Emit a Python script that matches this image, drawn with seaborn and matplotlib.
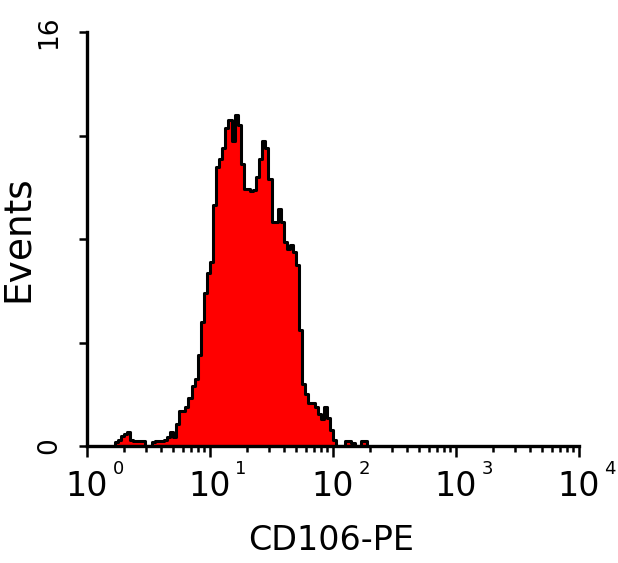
import numpy as np
import pandas as pd
import matplotlib
matplotlib.use("Agg")
import matplotlib.pyplot as plt
import matplotlib.transforms as mtransforms
from matplotlib.ticker import FixedLocator, NullFormatter, FixedFormatter
import seaborn as sns

# ---------------- data ----------------
# histogram bins in log10 units of CD106-PE fluorescence
bin_width_log = 0.025
first_bin_log = 0.225          # left edge (log10) of first listed bin
events = [
    0.15, 0.25, 0.39, 0.45, 0.54, 0.25, 0.2, 0.2, 0.2, 0.2,
    0.0, 0.0, 0.15, 0.2, 0.2, 0.2, 0.22, 0.35, 0.54, 0.35,
    0.86, 1.36, 1.36, 1.5, 1.86, 2.3, 2.6, 3.5, 4.8, 5.9,
    6.7, 7.1, 9.3, 10.8, 11.1, 11.5, 12.3, 12.6, 11.8, 12.8,
    12.4, 10.9, 9.95, 9.95, 9.85, 9.9, 10.4, 11.1, 11.8, 11.5,
    10.3, 8.65, 8.65, 9.15, 8.65, 7.9, 7.6, 7.75, 7.5, 7.0,
    4.5, 2.4, 2.0, 1.68, 1.68, 1.5, 1.24, 1.05, 1.5, 1.1,
    0.6, 0.25, 0.0, 0.0, 0.0, 0.2, 0.2, 0.1, 0.0, 0.0,
    0.2, 0.2,
]
x_decades = [0, 1, 2, 3, 4]
y_ticks = [0, 4, 8, 12, 16]
y_ticklabels = ["0", "", "", "", "16"]
x_label = "CD106-PE"
y_label = "Events"

# ---------------- build table ----------------
n = len(events)
edges_log = [first_bin_log + bin_width_log * i for i in range(n + 1)]
centers = [10 ** (e + bin_width_log / 2) for e in edges_log[:-1]]
df = pd.DataFrame({"fluorescence": centers, "events": events})

# ---------------- plot ----------------
sns.set_style("ticks")
plt.rcParams["font.family"] = ["DejaVu Sans"]
plt.rcParams["text.color"] = "black"
plt.rcParams["axes.labelcolor"] = "black"
plt.rcParams["xtick.color"] = "black"
plt.rcParams["ytick.color"] = "black"

fig = plt.figure(figsize=(6.18, 5.63), dpi=100)
ax = fig.add_axes([87 / 618, 117 / 563, 492 / 618, 414 / 563])

sns.histplot(data=df, x="fluorescence", weights="events", bins=edges_log,
             log_scale=True, element="step", fill=True,
             color="#ff0000", edgecolor="black", linewidth=2.2,
             alpha=1, ax=ax)

ax.set_xlim(10 ** x_decades[0], 10 ** x_decades[-1])
ax.set_ylim(y_ticks[0], y_ticks[-1])

for side in ["top", "right"]:
    ax.spines[side].set_visible(False)
for side in ["left", "bottom"]:
    ax.spines[side].set_linewidth(2.4)
    ax.spines[side].set_color("black")

# x ticks
major = [10.0 ** d for d in x_decades]
minor = [m * 10.0 ** d for d in x_decades[:-1] for m in range(2, 10)]
ax.xaxis.set_major_locator(FixedLocator(major))
ax.xaxis.set_minor_locator(FixedLocator(minor))
ax.xaxis.set_major_formatter(FixedFormatter(["10"] * len(major)))
ax.xaxis.set_minor_formatter(NullFormatter())
ax.tick_params(axis="x", which="major", length=8, width=1.8, pad=9,
               labelsize=24, color="black", labelcolor="black")
ax.tick_params(axis="x", which="minor", length=4, width=1.8, color="black")

# exponents
offset = mtransforms.offset_copy(
    mtransforms.blended_transform_factory(ax.transData, ax.transAxes),
    fig=fig, x=31, y=-23, units="dots")
for d in x_decades:
    ax.text(10.0 ** d, 0, str(d), transform=offset, fontsize=13,
            ha="center", va="center", color="black")

# y ticks
ax.set_yticks(y_ticks)
ax.set_yticklabels(y_ticklabels, rotation=90, va="center")
ax.tick_params(axis="y", which="major", length=6, width=1.8, pad=12,
               labelsize=19, color="black", labelcolor="black")

ax.set_xlabel(x_label, fontsize=24, color="black")
ax.set_ylabel(y_label, fontsize=27, color="black")
ax.xaxis.set_label_coords(0.497, -0.189)
ax.yaxis.set_label_coords(-0.103, 0.5)

fig.savefig("out.png", dpi=100, facecolor="white")
